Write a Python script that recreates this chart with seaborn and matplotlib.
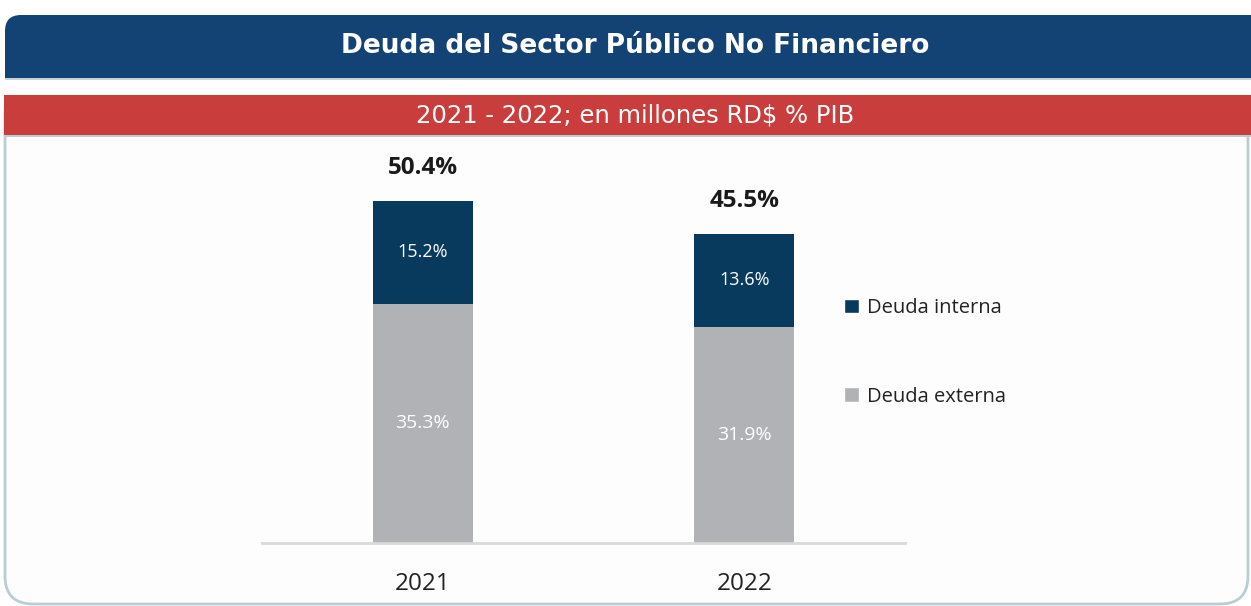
import numpy as np
import pandas as pd
import seaborn as sns
import matplotlib.pyplot as plt
from matplotlib.patches import FancyBboxPatch, Rectangle, Patch

years = ["2021", "2022"]
deuda_externa = [35.3, 31.9]
deuda_interna = [15.2, 13.6]
totales = [50.4, 45.5]

titulo = "Deuda del Sector Público No Financiero"
subtitulo = "2021 - 2022; en millones RD$ % PIB"

navy = "#083A5E"
gris = "#B1B2B6"
azul_header = "#134274"
rojo = "#C93D3D"
borde = "#B9CED4"

sns.set_theme(style="white")
plt.rcParams['font.family'] = ['Open Sans', 'DejaVu Sans']

W, H = 1251, 606
fig = plt.figure(figsize=(W / 100, H / 100), dpi=100)
fig.patch.set_facecolor("white")

def px(x, y):
    # pixel coords measured from top-left -> display coords
    return x, H - y

# panel with rounded bottom corners (top hidden under the bands)
x0, y0 = px(5, 604)
fig.patches.append(FancyBboxPatch((x0, y0), 1243, 520, boxstyle="round,pad=0,rounding_size=28",
                                  transform=None, facecolor="#FDFDFD", edgecolor=borde, lw=2, zorder=0))

# header (rounded top corners)
hx, hy = px(5, 78)
fig.patches.append(FancyBboxPatch((hx, hy), 1246 + 30, 63, boxstyle="round,pad=0,rounding_size=16",
                                  transform=None, facecolor=azul_header, edgecolor="none", zorder=1))
fig.patches.append(Rectangle((hx, hy), 1250, 25, transform=None, facecolor=azul_header,
                             edgecolor="none", zorder=1))
fig.patches.append(Rectangle(px(5, 80), 1250, 2, transform=None, facecolor="#C8D0D8",
                             edgecolor="none", zorder=1))
# white gap + red band
fig.patches.append(Rectangle(px(0, 95), W, 15, transform=None, facecolor="white",
                             edgecolor="none", zorder=1))
fig.patches.append(Rectangle(px(4, 135), W, 40, transform=None, facecolor=rojo,
                             edgecolor="none", zorder=2))
fig.patches.append(Rectangle(px(4, 137), W, 2, transform=None, facecolor=borde,
                             edgecolor="none", zorder=2))

fig.text(635 / W, 1 - 46 / H, titulo, ha="center", va="center", color="white",
         fontsize=19, fontweight="bold", family=["DejaVu Sans"])
fig.text(635 / W, 1 - 116 / H, subtitulo, ha="center", va="center", color="white",
         fontsize=17.5, family=["DejaVu Sans"])

# plot area: x 262..905, y 140..543
ax = fig.add_axes([262 / W, 1 - 543 / H, (905 - 262) / W, (543 - 140) / H])
ax.set_facecolor("none")
ax.set_zorder(5)

df = pd.DataFrame({"year": years, "externa": deuda_externa, "interna": deuda_interna, "total": totales})

sns.barplot(data=df, x="year", y="total", color=navy, width=0.31, saturation=1, linewidth=0, ax=ax)
sns.barplot(data=df, x="year", y="externa", color=gris, width=0.31, saturation=1, linewidth=0, ax=ax)

ax.set_xlim(-0.5, 1.5)
ax.set_ylim(0, 59.4)
ax.set_xlabel("")
ax.set_ylabel("")
ax.set_yticks([])
for s in ["top", "right", "left"]:
    ax.spines[s].set_visible(False)
ax.spines["bottom"].set_color("#D9D9D9")
ax.spines["bottom"].set_linewidth(2)
ax.tick_params(axis="x", length=0, pad=21, labelsize=17.5, labelcolor="#222222")

for i in range(len(years)):
    ax.text(i, deuda_externa[i] / 2, f"{deuda_externa[i]:.1f}%", ha="center", va="center",
            color="white", fontsize=14)
    ax.text(i, deuda_externa[i] + deuda_interna[i] / 2, f"{deuda_interna[i]:.1f}%", ha="center",
            va="center", color="white", fontsize=13)
    ax.text(i, totales[i] + 4.9, f"{totales[i]:.1f}%", ha="center", va="center",
            color="#1A1A1A", fontsize=17.5, fontweight="bold")

handles = [Patch(facecolor=navy, label="Deuda interna"), Patch(facecolor=gris, label="Deuda externa")]
fig.legend(handles=handles, loc="upper left", bbox_to_anchor=(826 / W, 1 - 280 / H), frameon=False,
           fontsize=14.5, handlelength=0.75, handleheight=0.75, handletextpad=0.4, labelspacing=3.4,
           labelcolor="#222222")

fig.savefig("out.png", dpi=100)
